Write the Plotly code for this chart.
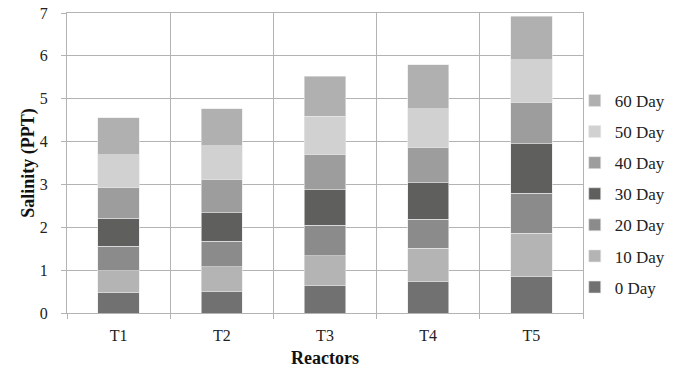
import plotly.graph_objects as go

reactors = ["T1", "T2", "T3", "T4", "T5"]
series_names = ["0 Day", "10 Day", "20 Day", "30 Day", "40 Day", "50 Day", "60 Day"]
day0 = [0.48, 0.50, 0.64, 0.73, 0.85]
day10 = [0.51, 0.58, 0.70, 0.78, 1.01]
day20 = [0.57, 0.60, 0.71, 0.68, 0.94]
day30 = [0.65, 0.66, 0.83, 0.85, 1.15]
day40 = [0.71, 0.78, 0.83, 0.83, 0.97]
day50 = [0.77, 0.78, 0.88, 0.90, 0.99]
day60 = [0.87, 0.87, 0.93, 1.02, 1.01]
series_values = [day0, day10, day20, day30, day40, day50, day60]
colors = ["#717171", "#b3b4b3", "#8b8b8b", "#5f5f5e", "#9c9d9c", "#d1d1d1", "#b0b0b0"]
y_ticks = [0, 1, 2, 3, 4, 5, 6, 7]

FONT = "Liberation Serif, Times New Roman, serif"

fig = go.Figure()
n = len(series_names)
for i, (name, vals, col) in enumerate(zip(series_names, series_values, colors)):
    fig.add_trace(go.Bar(
        x=reactors, y=vals, name=name, legendgroup=name,
        legendrank=n - i,
        marker=dict(color=col, line=dict(color="#e8e8e8", width=0.6)),
    ))

fig.update_layout(
    barmode="stack",
    bargap=0.6,
    width=684, height=372,
    margin=dict(l=67, r=101, t=13, b=59),
    paper_bgcolor="white", plot_bgcolor="white",
    font=dict(family=FONT, size=17, color="#222222"),
    legend=dict(
        traceorder="grouped", tracegroupgap=6,
        x=0.984, xanchor="left", y=0.397, yanchor="middle",
        font=dict(family=FONT, size=17, color="#222222"),
        itemwidth=30, bgcolor="rgba(0,0,0,0)",
    ),
    xaxis=dict(
        type="category", tickson="boundaries",
        showgrid=True, gridcolor="#b3b3b3", gridwidth=1,
        showline=True, linecolor="#b3b3b3", linewidth=1, mirror=True,
        ticks="outside", ticklen=5, tickcolor="#b3b3b3",
        ticklabelstandoff=8,
        tickfont=dict(family=FONT, size=16, color="#222222"),
        title=dict(text="<b>Reactors</b>", font=dict(family=FONT, size=18, color="#111111"), standoff=8),
        automargin=False,
    ),
    yaxis=dict(
        range=[0, 7], tickvals=y_ticks,
        showgrid=True, gridcolor="#b3b3b3", gridwidth=1,
        showline=True, linecolor="#b3b3b3", linewidth=1, mirror=True,
        ticks="outside", ticklen=5, tickcolor="#b3b3b3",
        ticklabelstandoff=10,
        tickfont=dict(family=FONT, size=16, color="#222222"),
        title=dict(text="<b>Salinity (PPT)</b>", font=dict(family=FONT, size=18, color="#111111"), standoff=0),
        zeroline=False,
        automargin=False,
    ),
)

fig.write_html("out.html")
